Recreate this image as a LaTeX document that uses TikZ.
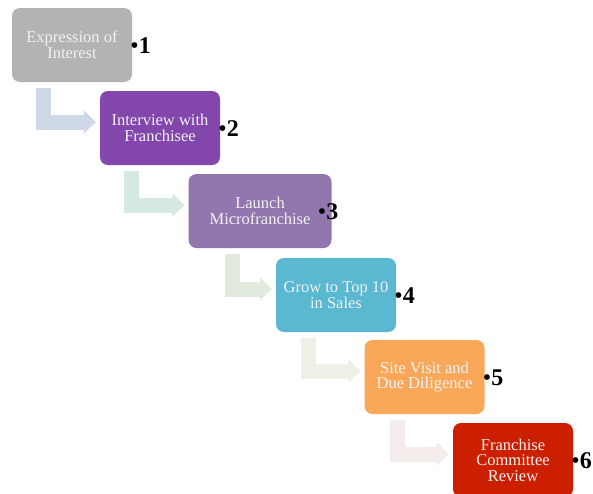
\documentclass[tikz,border=0pt]{standalone}
\usepackage{fontspec}
\setmainfont{Liberation Serif}
\usepackage{xcolor}
\definecolor{stepgray}{HTML}{B3B3B3}
\definecolor{steppurple}{HTML}{8246AD}
\definecolor{steplilac}{HTML}{9177AE}
\definecolor{stepcyan}{HTML}{5BB8D1}
\definecolor{steporange}{HTML}{F8A858}
\definecolor{stepred}{HTML}{CC1F00}
\definecolor{bentblue}{HTML}{CFD8E6}
\definecolor{bentteal}{HTML}{D5E9E3}
\definecolor{bentgreen}{HTML}{E0EADD}
\definecolor{bentbeige}{HTML}{EFEFE5}
\definecolor{bentpink}{HTML}{F3ECEA}
\usepackage{tikz}
\usetikzlibrary{positioning,arrows.meta,calc}

\tikzset{
  stepbox/.style={rounded corners=8pt, minimum width=120pt, minimum height=74pt,
    text=white!95!black, align=center, inner sep=2pt,
    font=\fontsize{16.5}{15.5}\selectfont},
  bent/.style={line width=15pt, -{Triangle[width=23pt,length=12pt]}},
  stepnum/.style={anchor=west, inner sep=0pt, font=\fontsize{24}{24}\selectfont\bfseries}
}

\begin{document}
\begin{tikzpicture}[x=1pt,y=-1pt]
\useasboundingbox (0,0) rectangle (593,493);

% steps
\node[stepbox, fill=stepgray] (expr) at (72,45) {Expression of\\Interest};
\node[stepbox, fill=steppurple] (intv) at (160,128) {Interview with\\Franchisee};
\node[stepbox, fill=steplilac, minimum width=143pt] (laun) at (260,211) {Launch\\Microfranchise};
\node[stepbox, fill=stepcyan] (grow) at (336,295) {Grow to Top 10\\in Sales};
\node[stepbox, fill=steporange] (site) at (424.5,377) {Site Visit and\\Due Diligence};
\node[stepbox, fill=stepred] (comm) at (513,460) {Franchise\\Committee\\Review};

% numbers
\node[stepnum] (n1) at ([xshift=-2pt,yshift=-1pt]expr.east) {\textmd{\textbullet}1};
\node[stepnum] (n2) at ([xshift=-2pt,yshift=-1pt]intv.east) {\textmd{\textbullet}2};
\node[stepnum] (n3) at ([xshift=-14pt,yshift=-1pt]laun.east) {\textmd{\textbullet}3};
\node[stepnum] (n4) at ([xshift=-2pt,yshift=-1pt]grow.east) {\textmd{\textbullet}4};
\node[stepnum] (n5) at ([xshift=-2pt,yshift=-1pt]site.east) {\textmd{\textbullet}5};
\node[stepnum] (n6) at ([xshift=-2pt,yshift=-1pt]comm.east) {\textmd{\textbullet}6};

% bent arrows
\draw[bent, bentblue] ([xshift=32pt,yshift=-6pt]expr.south west) |- ([xshift=-4pt,yshift=6pt]intv.west);
\draw[bent, bentteal] ([xshift=32pt,yshift=-6pt]intv.south west) |- ([xshift=-4pt,yshift=6pt]laun.west);
\draw[bent, bentgreen] ([xshift=44pt,yshift=-6pt]laun.south west) |- ([xshift=-4pt,yshift=6pt]grow.west);
\draw[bent, bentbeige] ([xshift=33pt,yshift=-6pt]grow.south west) |- ([xshift=-4pt,yshift=6pt]site.west);
\draw[bent, bentpink] ([xshift=33pt,yshift=-6pt]site.south west) |- ([xshift=-4pt,yshift=6pt]comm.west);

\end{tikzpicture}
\end{document}
